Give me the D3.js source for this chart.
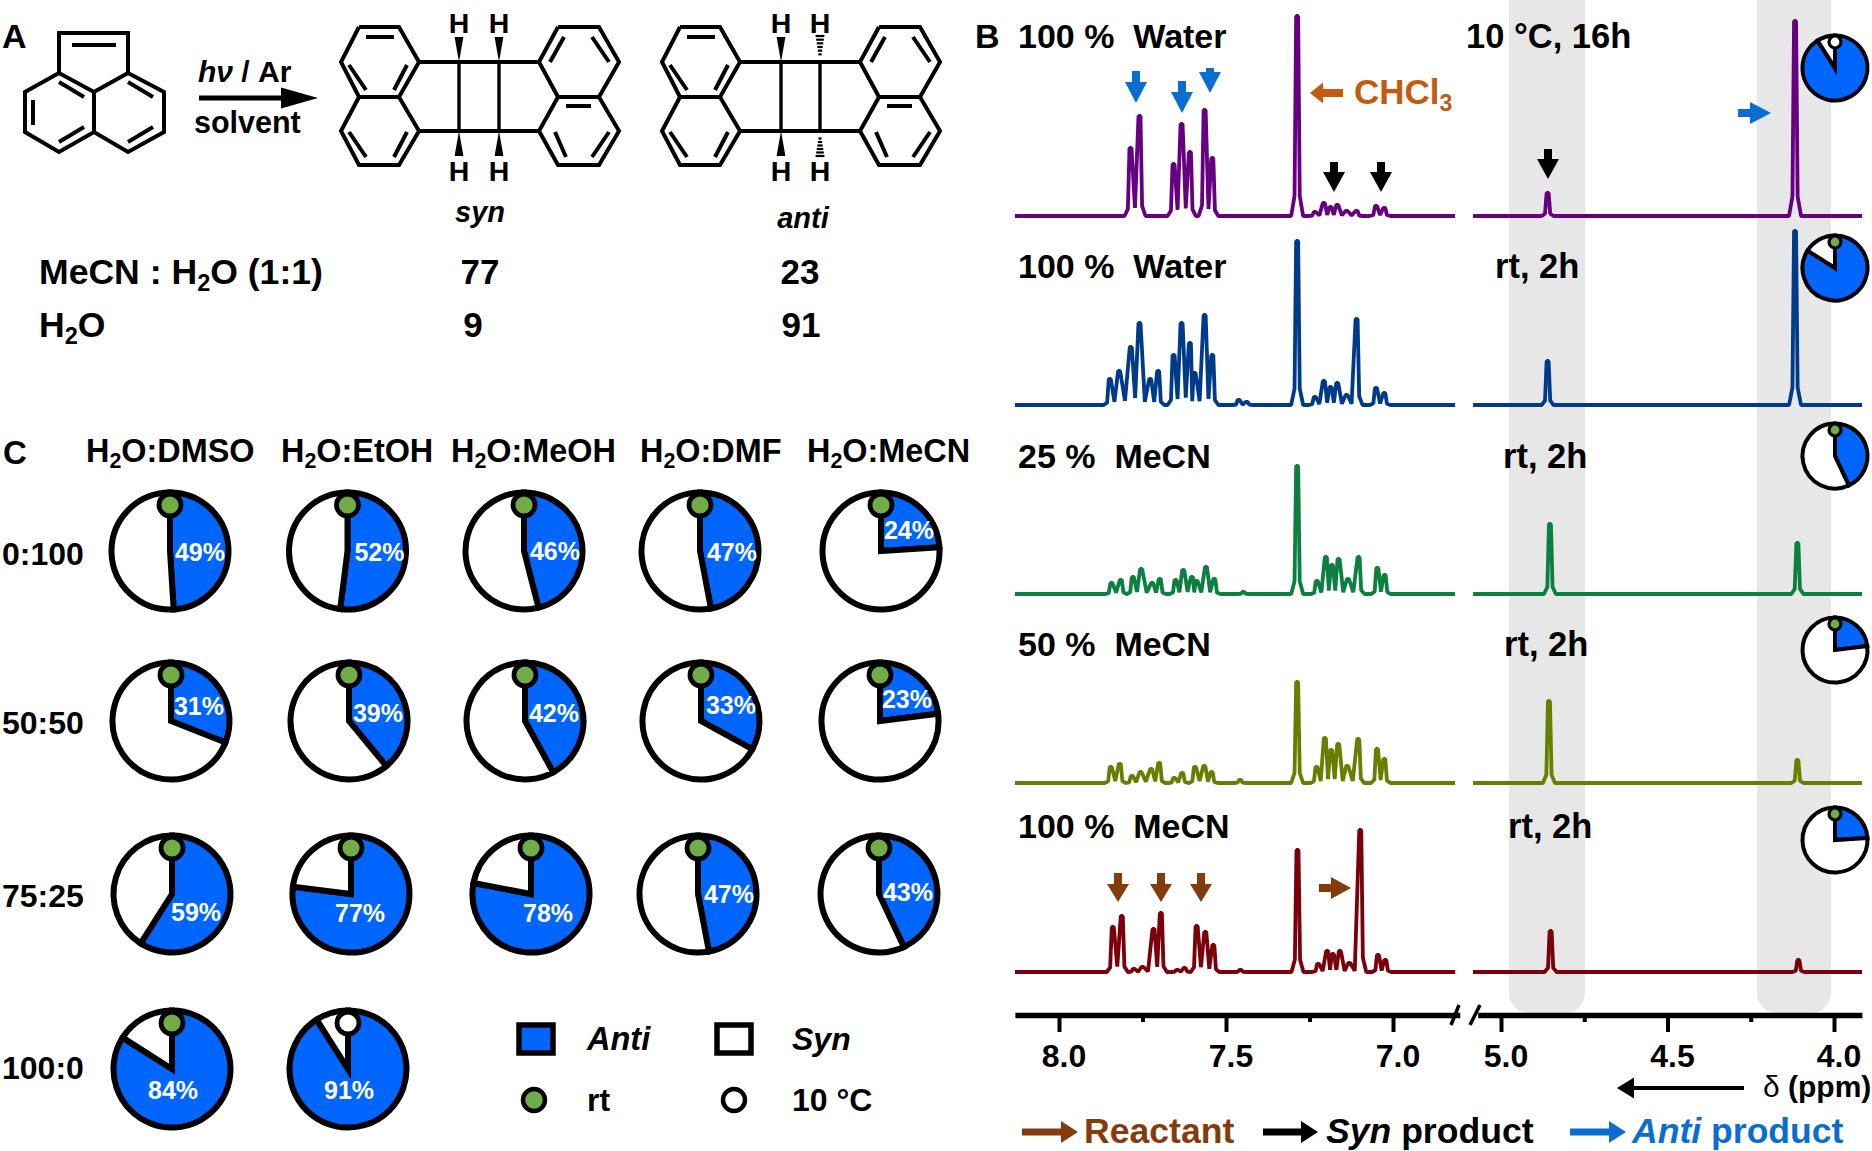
<!DOCTYPE html>
<html><head><meta charset="utf-8">
<script src="https://cdn.jsdelivr.net/npm/d3@7/dist/d3.min.js"></script>
<style>html,body{margin:0;padding:0;background:#fff}svg{display:block}text{font-family:"Liberation Sans",Arial,sans-serif;font-weight:bold;white-space:pre}</style>
</head><body><svg id="c" width="1872" height="1151"></svg>
<script>
// ---------- DATA ----------
const solventHeaders = ["DMSO","EtOH","MeOH","DMF","MeCN"];
const ratioLabels = ["0:100","50:50","75:25","100:0"];
const antiPercent = [[49,52,46,47,24],[31,39,42,33,23],[59,77,78,47,43],[84,91]];
const yieldRows = [["MeCN : H|2|O (1:1)",77,23],["H|2|O",9,91]];
const spectrumLabels = ["100 %  Water","100 %  Water","25 %  MeCN","50 %  MeCN","100 %  MeCN"];
const conditionLabels = ["10 °C, 16h","rt, 2h","rt, 2h","rt, 2h","rt, 2h"];
const miniPiePercent = [91,84,43,23,24];
const spectrumColors = ["#660480","#043a8a","#0a7f3f","#667f00","#7a0408"];
const majorLeft = [8.0,7.5,7.0], minorLeft = [7.75,7.25];
const majorRight = [5.0,4.5,4.0], minorRight = [4.75,4.25];

// peaks: [ppm, intensity]
const aromaticPeaks = [
 [[7.786,34],[7.759,50],[7.657,26],[7.633,46],[7.608,32],[7.564,53],[7.541,29],[7.287,100],[7.234,2],[7.207,6.5],[7.187,4.5],[7.167,5.5],[7.139,2.5],[7.109,2.5],[7.051,5],[7.026,4]],
 [[7.848,13],[7.820,17],[7.785,29],[7.759,41],[7.727,13],[7.703,17],[7.657,25],[7.633,41],[7.608,31],[7.594,16],[7.564,45],[7.541,25],[7.462,2.5],[7.438,1.5],[7.287,82],[7.234,4],[7.207,12],[7.187,9],[7.167,11],[7.139,5],[7.109,43],[7.051,8.5],[7.026,6]],
 [[7.843,5.5],[7.815,7],[7.779,8.5],[7.754,12.5],[7.721,5.5],[7.698,7.5],[7.651,7],[7.628,12],[7.602,8.5],[7.588,6.5],[7.560,13.5],[7.535,7.5],[7.448,1],[7.287,64],[7.228,6.5],[7.201,18.5],[7.183,14.5],[7.163,17.5],[7.135,7.5],[7.103,18.5],[7.047,13],[7.025,9.5]],
 [[7.845,8],[7.818,9.5],[7.782,3.5],[7.756,5.5],[7.724,7],[7.700,10],[7.655,2.5],[7.631,5],[7.593,8],[7.565,8.5],[7.543,5.5],[7.458,1.5],[7.287,50.5],[7.229,8],[7.204,22.5],[7.185,16.5],[7.164,19.5],[7.137,8.5],[7.104,22],[7.048,17],[7.026,12]],
 [[7.839,22.5],[7.812,28],[7.776,1.5],[7.750,2.5],[7.717,21.5],[7.695,29.5],[7.646,1],[7.624,2],[7.588,23],[7.562,20],[7.538,13.5],[7.457,1],[7.286,61],[7.224,4],[7.197,10.5],[7.180,9],[7.159,10.5],[7.131,4.5],[7.098,71],[7.045,8.5],[7.023,6]]
];
const aliphaticPeaks = [
 [[4.860,11.5],[4.117,97.5]],
 [[4.860,22],[4.117,87]],
 [[4.853,35],[4.110,25.5]],
 [[4.856,41],[4.110,11.5]],
 [[4.851,20.5],[4.107,6]]
];

// ---------- LAYOUT ----------
const svg = d3.select("#c");
const BLUE="#0066ff", GREEN="#70ad47", ARROWBLUE="#0a6ed1", BROWN="#843c0c", ORANGE="#c55a11";
const defs=svg.append("defs");
defs.append("filter").attr("id","soft").attr("x","-2%").attr("y","-10%").attr("width","104%").attr("height","120%")
  .append("feGaussianBlur").attr("stdDeviation",0.55);
const root = svg.append("g");

function rich(g,x,y,str,size,opt={}){
  // "a|b|c": b is a subscript; "~text~" is italic
  const t=g.append("text").attr("x",x).attr("y",y).attr("font-size",size)
    .attr("fill",opt.fill||"#000").attr("text-anchor",opt.anchor||"start");
  let dy=0;
  str.split("|").forEach((part,i)=>{
    const sub=i%2===1;
    part.split("~").forEach((seg,j)=>{
      if(!seg) return;
      const s=t.append("tspan").text(seg);
      if(sub){s.attr("font-size",size*0.66).attr("dy",size*0.2);dy=size*0.2;}
      else if(dy){s.attr("dy",-dy);dy=0;}
      if(j%2===1) s.attr("font-style","italic");
    });
  });
  return t;
}
function blockArrow(g,x1,y1,x2,y2,head,half,shaft,fill){
  const a=Math.atan2(y2-y1,x2-x1),l=Math.hypot(x2-x1,y2-y1);
  g.append("path").attr("transform",`translate(${x1},${y1}) rotate(${a*180/Math.PI})`)
   .attr("fill",fill)
   .attr("d",d3.line()([[0,-shaft/2],[l-head,-shaft/2],[l-head,-half],[l,0],[l-head,half],[l-head,shaft/2],[0,shaft/2]])+"Z");
}

// ---- grey highlight bands (behind traces)
const xL=d3.scaleLinear().domain([8,7]).range([1059,1393]);
const xR=d3.scaleLinear().domain([5,4]).range([1501,1834]);
const leftDomain=[8.132,6.80], rightDomain=[5.070,3.916];
const leftTrace=[8.132,6.814], rightTrace=[5.084,3.916];
[[1509,1585],[1757,1831]].forEach(([a,b])=>{
  root.append("path").attr("fill","#e7e7e7")
   .attr("d",`M${a},-20H${b}V993a20,20 0 0 1 -20,20H${a+20}a20,20 0 0 1 -20,-20Z`);
});

// ---- spectra
const baselines=[216,405,594,783,972];
const yInt=d3.scaleLinear().domain([0,100]).range([0,200]);
function traceVertices(peaks,x,dom){
  const v=[[x(dom[0]),0]];
  const ps=peaks.map(([p,h])=>[x(p),yInt(h)]).sort((a,b)=>a[0]-b[0]);
  ps.forEach(([px,h],i)=>{
    const prev=ps[i-1],next=ps[i+1];
    if(!prev||px-prev[0]>=12){v.push([px-6,0],[px-2.6,h*.1]);}
    else{v.push([(px+prev[0])/2,Math.min(h,prev[1])*.12]);}
    v.push([px-1,h],[px+1,h]);
    if(!next||next[0]-px>=12){v.push([px+2.6,h*.1],[px+6,0]);}
  });
  v.push([x(dom[1]),0]);
  return v;
}
baselines.forEach((b,i)=>{
  const line=d3.line().x(d=>d[0]).y(d=>b-d[1]);
  [[aromaticPeaks[i],xL,leftTrace],[aliphaticPeaks[i],xR,rightTrace]].forEach(([pk,x,dom])=>{
    root.append("path").attr("d",line(traceVertices(pk,x,dom)))
      .attr("fill","none").attr("stroke",spectrumColors[i]).attr("stroke-width",3.8)
      .attr("stroke-linejoin","bevel").attr("filter","url(#soft)");
  });
});

// ---- spectrum labels
const labelBase=[48,278,468,656,838];
const condX=[1466,1495,1503,1504,1508];
spectrumLabels.forEach((s,i)=>{
  rich(root,1018,labelBase[i],s,34);
  rich(root,condX[i],labelBase[i],conditionLabels[i],34.5);
});
rich(root,975,48,"B",34);
rich(root,1354,104,"CHCl|3|",35,{fill:ORANGE});

// ---- spectrum arrows
blockArrow(root,1343,93,1310,93,13,10.5,8,ORANGE);
[[1136,71,103],[1182,81,113],[1210,68,93]].forEach(([x,a,b])=>blockArrow(root,x,a,x,b,21,11,8,ARROWBLUE));
[[1334,162,192],[1381,162,192],[1548,149,179]].forEach(([x,a,b])=>blockArrow(root,x,a,x,b,20,11,8,"#000"));
blockArrow(root,1738,113,1771,113,21,11,8,ARROWBLUE);
[1118,1161,1201].forEach(x=>blockArrow(root,x,873,x,902,18,11,8,BROWN));
blockArrow(root,1319,888,1351,888,20,11,8,BROWN);

// ---- axes
function drawAxis(scale,dom,major,minor){
  const s=scale.copy().domain(dom).range(dom.map(scale));
  const gMin=root.append("g").attr("transform","translate(0,1015)")
    .call(d3.axisBottom(s).tickValues(minor).tickSize(7).tickSizeOuter(0).tickFormat(""));
  const gMaj=root.append("g").attr("transform","translate(0,1015)")
    .call(d3.axisBottom(s).tickValues(major).tickSize(17).tickSizeOuter(0).tickPadding(12).tickFormat(d3.format(".1f")));
  [gMin,gMaj].forEach(g=>{
    g.selectAll(".domain").attr("stroke","#000").attr("stroke-width",5.5);
    g.selectAll(".tick line").attr("stroke","#000").attr("stroke-width",4);
    g.selectAll("text").attr("font-size",32).attr("fill","#000").attr("font-family","Liberation Sans").attr("dx",4.5);
  });
  gMin.select(".domain").attr("stroke-width",0);
}
drawAxis(xL,leftDomain,majorLeft,minorLeft);
drawAxis(xR,rightDomain,majorRight,minorRight);
[[1459,1005,1451,1025],[1480,1005,1470,1025]].forEach(([a,b,c,d])=>
  root.append("line").attr("x1",a).attr("y1",b).attr("x2",c).attr("y2",d).attr("stroke","#000").attr("stroke-width",3.5));
const dl=root.append("text").attr("x",1763).attr("y",1097).attr("font-size",30);
dl.append("tspan").attr("font-weight","normal").text("δ");
dl.append("tspan").text(" (ppm)");
blockArrow(root,1744,1088,1617,1088,17,10.5,4,"#000");

// ---- bottom key
[[1022,1078,BROWN],[1263,1318,"#000"],[1570,1626,ARROWBLUE]].forEach(([a,b,f])=>blockArrow(root,a,1132,b,1132,17,11,7,f));
rich(root,1084,1143,"Reactant",35.6,{fill:BROWN});
rich(root,1326,1143,"~Syn~ product",35.6);
rich(root,1632,1143,"~Anti~ product",35.6,{fill:ARROWBLUE});

// ---- pies
const pieGen=d3.pie().sort(null);
function drawPie(g,cx,cy,r,pct,sw,dotR,dotOff,dotFill){
  const gp=g.append("g").attr("transform",`translate(${cx},${cy})`);
  const arc=d3.arc().innerRadius(0).outerRadius(r);
  gp.selectAll("path").data(pieGen([pct,100-pct])).join("path")
    .attr("d",arc).attr("fill",(d,i)=>i?"#fff":BLUE)
    .attr("stroke","#000").attr("stroke-width",sw).attr("stroke-linejoin","miter");
  gp.append("circle").attr("cx",0).attr("cy",-dotOff).attr("r",dotR)
    .attr("fill",dotFill).attr("stroke","#000").attr("stroke-width",sw*.8);
  return gp;
}
const pieX=[[170,347.5,524,700,881],[171,349,525,701,880],[172,351,531,698,879],[172,348]];
const pieY=[551,721,894,1069];
const pieLabelOffset=[[[30,1],[32,1],[31,0],[32,1],[28,-21]],[[28,-15],[29,-8],[29,-8],[30,-16],[27,-22]],[[24,18],[9,19],[17,19],[31,0],[29,-2]],[[1,21],[1,21]]];
antiPercent.forEach((row,r)=>row.forEach((p,c)=>{
  const is10=(r===3&&c===1);
  const gp=drawPie(root,pieX[r][c],pieY[r],58.5,p,6,11,46,is10?"#fff":GREEN);
  const [dx,dy]=pieLabelOffset[r][c];
  gp.append("text").attr("x",dx).attr("y",dy).attr("font-size",25).attr("fill","#fff")
    .attr("text-anchor","middle").attr("dominant-baseline","central").text(p+"%");
}));
const rowBase=[565,734,907,1079];
ratioLabels.forEach((s,i)=>rich(root,2,rowBase[i],s,32));
const headX=[86,281,451,640,807];
solventHeaders.forEach((s,i)=>rich(root,headX[i],462,"H|2|O:"+s,32.4));
rich(root,3,464,"C",33);

// mini pies
const miniY=[68,268,456,650,840];
miniPiePercent.forEach((p,i)=>drawPie(root,1835,miniY[i],32.5,p,4,6,26,i?GREEN:"#fff"));

// ---- pie key
[[519,BLUE],[717,"#fff"]].forEach(([x,f])=>root.append("rect").attr("x",x).attr("y",1025).attr("width",34).attr("height",28).attr("fill",f).attr("stroke","#000").attr("stroke-width",5.5));
rich(root,587,1050,"~Anti~",32.5);
rich(root,792,1050,"~Syn~",32);
[[534,GREEN],[734,"#fff"]].forEach(([x,f])=>root.append("circle").attr("cx",x).attr("cy",1100).attr("r",11).attr("fill",f).attr("stroke","#000").attr("stroke-width",4.5));
rich(root,587,1111,"rt",32);
rich(root,792,1111,"10 °C",32);

// ---- panel A
const bond=(g,pts,w=4)=>g.append("path").attr("d",d3.line()(pts)).attr("fill","none").attr("stroke","#000").attr("stroke-width",w).attr("stroke-linejoin","miter");
const gA=root.append("g");
rich(gA,2,48,"A",34);
// acenaphthylene
bond(gA,[[59,73],[59,33],[128,33],[128,73]]);
bond(gA,[[94,92],[59,73],[25,92],[25,132],[59,152],[94,132],[128,152],[164,132],[164,92],[128,73],[94,92],[94,132]]);
[[[72,45],[116,45]],[[59,82],[84,97]],[[33,100],[33,125]],[[59,142],[84,127]],[[128,82],[153,97]],[[153,127],[128,142]]].forEach(s=>bond(gA,s));
// arrow + conditions
blockArrow(gA,199,98,318,98,37,10.5,5,"#000");
rich(gA,198,82,"~hν~ / Ar",30);
rich(gA,194,133,"solvent",30.5);
// dimers
const ringsOuter=[
 [[359,27],[399,27],[419,62],[399,97],[359,97],[341,62],[359,27]],
 [[359,97],[341,131],[359,165],[399,165],[419,131],[399,97]],
 [[558,27],[599,27],[619,62],[599,97],[558,97],[539,62],[558,27]],
 [[558,97],[539,131],[558,165],[599,165],[619,131],[599,97]],
 [[419,62],[539,62]],[[419,131],[539,131]]];
const ringsInner=[[[366,37],[394,37]],[[349,65],[366,90]],[[407,65],[394,90]],[[349,132],[366,157]],[[407,132],[394,157]],
 [[564,37],[550,62]],[[592,37],[609,62]],[[566,106],[591,106]],[[555,132],[566,157]],[[609,132],[592,157]]];
function wedge(g,x,apex,wide){g.append("path").attr("fill","#000").attr("d",d3.line()([[x,apex],[x-4.4,wide],[x+4.4,wide]])+"Z");}
function hash(g,x,apex,wide){const n=6;for(let i=1;i<=n;i++){const y=apex+(wide-apex)*i/n;const w=1+3.4*i/n;g.append("line").attr("x1",x-w).attr("x2",x+w).attr("y1",y).attr("y2",y).attr("stroke","#000").attr("stroke-width",2.2);}}
[[0,[459,499],false],[321,[460,499],true]].forEach(([off,xs,anti])=>{
  const g=gA.append("g").attr("transform",`translate(${off},0)`);
  ringsOuter.forEach(s=>bond(g,s));
  ringsInner.forEach(s=>bond(g,s));
  xs.forEach((x,i)=>{
    bond(g,[[x,62],[x,131]],3.4);
    if(anti&&i===1){hash(g,x,58,36);hash(g,x,135,156);}
    else{wedge(g,x,62,37);wedge(g,x,131,156);}
    [33,181].forEach(b=>rich(g,x,b,"H",28.5,{anchor:"middle"}));
  });
});
rich(gA,480,222,"~syn~",29,{anchor:"middle"});
rich(gA,803,228,"~anti~",29,{anchor:"middle"});
const rowY=[284,337], colCenters=[[480,800],[473,801]];
yieldRows.forEach((r,i)=>{
  rich(gA,39,rowY[i],r[0],35.6);
  rich(gA,colCenters[i][0],rowY[i],String(r[1]),35,{anchor:"middle"});
  rich(gA,colCenters[i][1],rowY[i],String(r[2]),35,{anchor:"middle"});
});
</script></body></html>
